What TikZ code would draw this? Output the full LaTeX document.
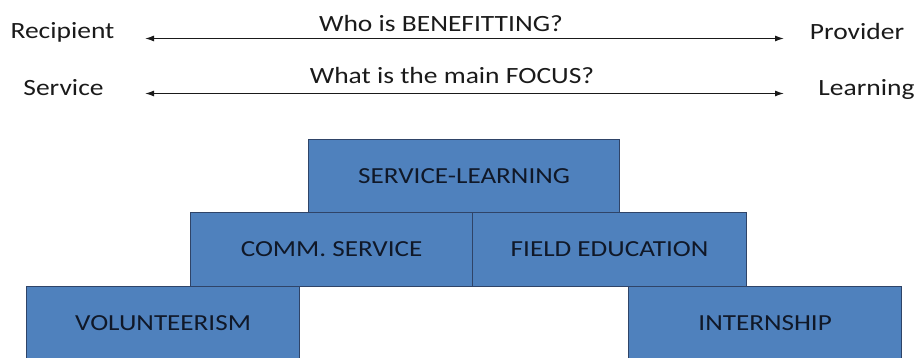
\documentclass[tikz,border=0pt]{standalone}
\usepackage{fontspec}
\setmainfont{Carlito}
\newfontfamily\widefont[FakeStretch=1.18]{Carlito}
\usetikzlibrary{arrows.meta}
\definecolor{boxfill}{HTML}{4F81BD}
\definecolor{boxline}{HTML}{2F4468}
\definecolor{txt}{HTML}{1A1A1A}
\definecolor{btxt}{HTML}{101828}
\tikzset{
  lbl/.style={anchor=base, inner sep=0pt, text=txt, font=\widefont\fontsize{23.3}{28}\selectfont},
  stepbox/.style={draw=boxline, line width=1.2pt, fill=boxfill, anchor=north west,
    inner sep=0pt, text=btxt, font=\widefont\fontsize{23}{28}\selectfont},
  dbl/.style={line width=1.2pt, draw=txt, {Latex[length=9pt,width=6pt]}-{Latex[length=9pt,width=6pt]}}
}
\begin{document}
\begin{tikzpicture}[x=1pt,y=-1pt]
\useasboundingbox (0,0) rectangle (916,358);
\clip (0,0) rectangle (916,358);
% top labels
\node[lbl] (rec) at (62.5,39) {Recipient};
\node[lbl] (prov) at (857,39.5) {Provider};
\node[lbl] (q1) at (441,31.5) {Who is BENEFITTING?};
\coordinate (a1l) at (145,38.5);
\coordinate (a1r) at (784,38.5);
\draw[dbl] (a1l) -- (a1r);
\node[lbl] (serv) at (63.5,95.5) {Service};
\node[lbl] (learn) at (866.5,95.5) {Learning};
\node[lbl] (q2) at (452,84) {What is the main FOCUS?};
\coordinate (a2l) at (145,93.5);
\coordinate (a2r) at (784,93.5);
\draw[dbl] (a2l) -- (a2r);
% boxes
\node[stepbox, minimum width=311pt, minimum height=73pt] (sl) at (308,139) {SERVICE-LEARNING};
\node[stepbox, minimum width=282pt, minimum height=74pt] (cs) at (190,212) {COMM. SERVICE};
\node[stepbox, minimum width=274pt, minimum height=74pt] (fe) at (472,212) {FIELD EDUCATION};
\node[stepbox, minimum width=273pt, minimum height=74pt] (vo) at (26,286) {VOLUNTEERISM};
\node[stepbox, minimum width=273pt, minimum height=74pt] (in) at (628,286) {INTERNSHIP};
\end{tikzpicture}
\end{document}
